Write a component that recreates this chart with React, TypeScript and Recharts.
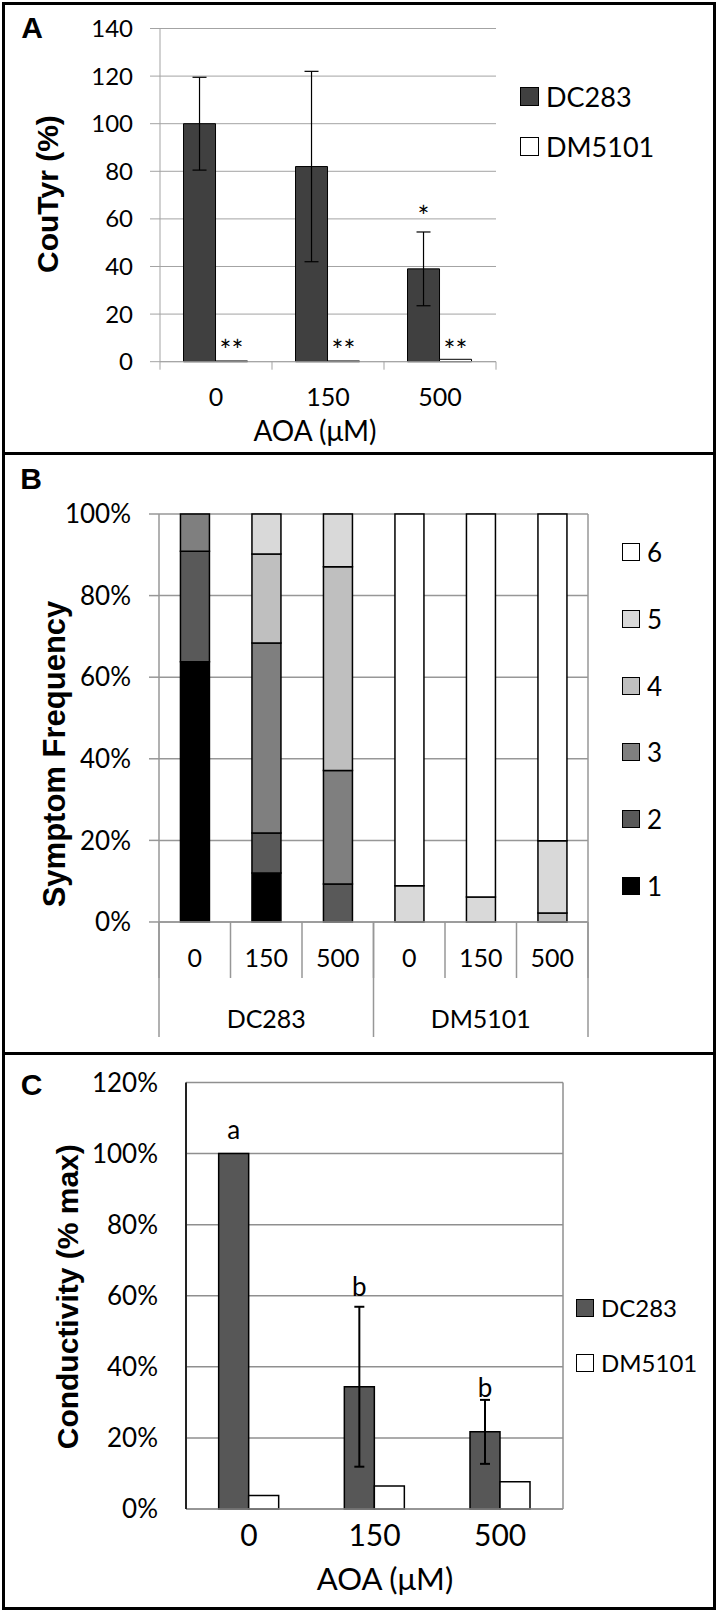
import React from "react";
import {
  Bar,
  BarChart,
  CartesianGrid,
  ErrorBar,
  Label,
  LabelList,
  Legend,
  XAxis,
  YAxis,
} from "recharts";

// ---- shared categories ----
const doses = ["0", "150", "500"];

// ---- A: CouTyr (%) ----
const couTyrDC283 = [100, 82, 39];
const couTyrDC283Err = [19.5, 40, 15.5];
const couTyrDM5101 = [0.3, 0.3, 1];
const couTyrDC283Marks = ["", "", "*"];
const couTyrDC283MarkAt = [0, 0, 56.5];
const couTyrDM5101Marks = ["**", "**", "**"];
const couTyrDM5101MarkAt = [0.3, 0.3, 0.3];
const couTyrTicks = [0, 20, 40, 60, 80, 100, 120, 140];

// ---- B: symptom frequency (%) per score ----
const symptomDoses = ["0", "150", "500", "0", "150", "500"];
const strains = ["DC283", "DM5101"];
const scoreNames = ["1", "2", "3", "4", "5", "6"];
const score1 = [63.8, 12, 0, 0, 0, 0];
const score2 = [27.1, 9.8, 9.3, 0, 0, 0];
const score3 = [9.1, 46.6, 27.8, 0, 0, 0];
const score4 = [0, 21.8, 50, 0, 0, 2.2];
const score5 = [0, 9.8, 12.9, 8.9, 6.1, 17.7];
const score6 = [0, 0, 0, 91.1, 93.9, 80.1];
const pctTicks = [0, 20, 40, 60, 80, 100];

// ---- C: conductivity (% max) ----
const condDC283 = [100, 34.4, 21.7];
const condDC283Err = [0, 22.5, 9];
const condDM5101 = [3.8, 6.5, 7.7];
const condLetters = ["a", "b", "b"];
const condLetterAt = [104, 60, 31.4];
const condTicks = [0, 20, 40, 60, 80, 100, 120];

const scoreSeries = [score1, score2, score3, score4, score5, score6];
const scoreColors = ["#000000", "#595959", "#7f7f7f", "#bfbfbf", "#d9d9d9", "#ffffff"];

const SANS = "Lato, 'Open Sans', sans-serif";
const BOLD = "'Liberation Sans', Arial, sans-serif";
const GRID_A = "#a3a3a3";
const GRID_B = "#979797";
const GRID_C = "#8f8f8f";

// "slot" = category index + 0.5, used by the helper numeric axes that draw
// the category boundary ticks and the group labels
const couTyrData = doses.map((dose, i) => ({
  dose,
  slot: i + 0.5,
  dc: couTyrDC283[i],
  dcErr: couTyrDC283Err[i],
  dm: couTyrDM5101[i],
  dcMark: couTyrDC283Marks[i],
  dmMark: couTyrDM5101Marks[i],
}));

const symptomData = symptomDoses.map((dose, i) => {
  const row: Record<string, any> = { dose, slot: i + 0.5 };
  scoreSeries.forEach((s, k) => (row[`s${k + 1}`] = s[i]));
  return row;
});

const condData = doses.map((dose, i) => ({
  dose,
  dc: condDC283[i],
  dcErr: condDC283Err[i],
  dm: condDM5101[i],
  letter: condLetters[i],
}));

const range = (n: number) => Array.from({ length: n }, (_, i) => i);

// right-hand plot frame line, taken from the chart's own plot offset
const rightEdge = (p: any) => [p.offset.left + p.offset.width];

// text placed over a bar at a value (in data units), using the bar's own geometry
function markContent(texts: string[], at: number[], values: number[], size: number) {
  return (props: any) => {
    const i = props.index;
    const t = texts[i];
    if (!t) return null;
    const vb = props.viewBox ?? props;
    const k = vb.height / values[i];
    const bottom = vb.y + vb.height;
    return (
      <text
        x={vb.x + vb.width / 2}
        y={bottom - at[i] * k}
        textAnchor="middle"
        fontFamily={SANS}
        fontSize={size}
        fill="#000"
      >
        {t}
      </text>
    );
  };
}

function vTitle(text: string, dx: number, dy: number, size: number) {
  return (props: any) => {
    const vb = props.viewBox;
    const cx = vb.x + dx;
    const cy = vb.y + vb.height / 2 + dy;
    return (
      <text
        x={cx}
        y={cy}
        transform={`rotate(-90 ${cx} ${cy})`}
        textAnchor="middle"
        dominantBaseline="central"
        fontFamily={BOLD}
        fontWeight="bold"
        fontSize={size}
        fill="#000"
      >
        {text}
      </text>
    );
  };
}

function hTitle(text: string, dx: number, dy: number, size: number) {
  return (props: any) => {
    const vb = props.viewBox;
    return (
      <text
        x={vb.x + vb.width / 2 + dx}
        y={vb.y + dy}
        textAnchor="middle"
        dominantBaseline="central"
        fontFamily={SANS}
        fontSize={size}
        fill="#000"
      >
        {text}
      </text>
    );
  };
}

function SwatchLegend({ payload, row, size, box, reverse }: any) {
  const items = reverse ? [...(payload || [])].reverse() : payload || [];
  return (
    <div>
      {items.map((it: any) => (
        <div
          key={it.value}
          style={{
            height: row,
            display: "flex",
            alignItems: "center",
            fontFamily: SANS,
            fontSize: size,
            color: "#000",
            lineHeight: 1,
          }}
        >
          <span
            style={{
              display: "inline-block",
              width: box,
              height: box,
              background: it.color,
              border: "1.5px solid #000",
              boxSizing: "border-box",
              marginRight: 7,
            }}
          />
          {it.value}
        </div>
      ))}
    </div>
  );
}

// bottom axes are stacked in id order, so the ids are prefixed to keep the
// zero-height helper axes directly on the plot's bottom edge
function PanelA() {
  return (
    <BarChart
      width={721}
      height={454}
      data={couTyrData}
      margin={{ top: 28.5, right: 225, bottom: 22.3, left: 20 }}
      barCategoryGap="21%"
      barGap={0}
    >
      <CartesianGrid vertical={false} stroke={GRID_A} xAxisId="a1cat" />
      <XAxis
        xAxisId="a0edge"
        dataKey="slot"
        type="number"
        domain={[0, doses.length]}
        allowDataOverflow
        ticks={range(doses.length + 1)}
        height={0.01}
        tickSize={8}
        tickLine={{ stroke: GRID_A }}
        axisLine={false}
        tickFormatter={() => ""}
        interval={0}
      />
      <XAxis
        xAxisId="a1cat"
        dataKey="dose"
        height={70}
        tickLine={false}
        tickSize={0}
        tickMargin={27}
        axisLine={{ stroke: GRID_A }}
        tick={{ fontFamily: SANS, fontSize: 25, fill: "#000" }}
        interval={0}
      >
        <Label content={hTitle("AOA (\u03bcM)", -13, 68, 28)} />
      </XAxis>
      <YAxis
        width={140}
        domain={[0, 140]}
        ticks={couTyrTicks}
        tickSize={10}
        tickMargin={17}
        tickLine={{ stroke: GRID_A }}
        axisLine={{ stroke: GRID_A }}
        tick={{ fontFamily: SANS, fontSize: 24, fill: "#000" }}
        interval={0}
      >
        <Label content={vTitle("CouTyr (%)", 28, -1, 30)} />
      </YAxis>
      <Bar xAxisId="a1cat" dataKey="dc" name="DC283" fill="#404040" stroke="#000" isAnimationActive={false}>
        <ErrorBar dataKey="dcErr" width={7} stroke="#000" strokeWidth={1.2} />
        <LabelList
          dataKey="dcMark"
          content={markContent(couTyrDC283Marks, couTyrDC283MarkAt, couTyrDC283, 28)}
        />
      </Bar>
      <Bar xAxisId="a1cat" dataKey="dm" name="DM5101" fill="#fff" stroke="#000" isAnimationActive={false}>
        <LabelList
          dataKey="dmMark"
          content={markContent(couTyrDM5101Marks, couTyrDM5101MarkAt, couTyrDM5101, 28)}
        />
      </Bar>
      <Legend
        layout="vertical"
        align="center"
        verticalAlign="middle"
        wrapperStyle={{ left: 520, top: 71.7, width: 180 }}
        content={(p: any) => <SwatchLegend payload={p.payload} row={50} size={27} box={19} />}
      />
    </BarChart>
  );
}

function PanelB() {
  const n = symptomDoses.length;
  const per = n / strains.length;
  return (
    <BarChart
      width={721}
      height={600}
      data={symptomData}
      margin={{ top: 60, right: 133, bottom: 16, left: 20 }}
      barCategoryGap="30%"
    >
      <CartesianGrid
        stroke={GRID_B}
        strokeWidth={1.5}
        xAxisId="b2dose"
        verticalCoordinatesGenerator={rightEdge}
      />
      <XAxis
        xAxisId="b0sepS"
        dataKey="slot"
        type="number"
        domain={[0, n]}
        allowDataOverflow
        ticks={range(n + 1)}
        height={0.01}
        tickSize={56}
        tickLine={{ stroke: GRID_B, strokeWidth: 1.5 }}
        axisLine={false}
        tickFormatter={() => ""}
        interval={0}
      />
      <XAxis
        xAxisId="b1sepL"
        dataKey="slot"
        type="number"
        domain={[0, n]}
        allowDataOverflow
        ticks={range(strains.length + 1).map((g) => g * per)}
        height={0.01}
        tickSize={115}
        tickLine={{ stroke: GRID_B, strokeWidth: 1.5 }}
        axisLine={false}
        tickFormatter={() => ""}
        interval={0}
      />
      <XAxis
        xAxisId="b2dose"
        dataKey="dose"
        height={56}
        tickLine={false}
        tickSize={0}
        tickMargin={27}
        axisLine={{ stroke: GRID_B, strokeWidth: 1.5 }}
        tick={{ fontFamily: SANS, fontSize: 25, fill: "#000" }}
        interval={0}
      />
      <XAxis
        xAxisId="b3grp"
        dataKey="slot"
        type="number"
        domain={[0, n]}
        allowDataOverflow
        ticks={strains.map((_, g) => g * per + per / 2)}
        tickFormatter={(v: number) => strains[Math.floor(v / per)]}
        height={60}
        tickLine={false}
        tickSize={0}
        tickMargin={32}
        axisLine={false}
        tick={{ fontFamily: SANS, fontSize: 25, fill: "#000" }}
        interval={0}
      />
      <YAxis
        width={139}
        domain={[0, 100]}
        ticks={pctTicks}
        tickFormatter={(v: number) => `${v}%`}
        tickSize={10}
        tickMargin={18}
        tickLine={{ stroke: GRID_B, strokeWidth: 1.5 }}
        axisLine={{ stroke: GRID_B, strokeWidth: 1.5 }}
        tick={{ fontFamily: SANS, fontSize: 26, fill: "#000" }}
        interval={0}
      >
        <Label content={vTitle("Symptom Frequency", 35, 36, 31)} />
      </YAxis>
      {scoreNames.map((name, k) => (
        <Bar
          key={name}
          xAxisId="b2dose"
          dataKey={`s${k + 1}`}
          name={name}
          stackId="s"
          fill={scoreColors[k]}
          stroke="#000"
          strokeWidth={1.5}
          isAnimationActive={false}
        />
      ))}
      <Legend
        layout="vertical"
        align="center"
        verticalAlign="middle"
        wrapperStyle={{ left: 622, top: 64.6, width: 80 }}
        content={(p: any) => <SwatchLegend payload={p.payload} row={66.8} size={26} box={18} reverse />}
      />
    </BarChart>
  );
}

function PanelC() {
  return (
    <BarChart
      width={721}
      height={553}
      data={condData}
      margin={{ top: 28.5, right: 158, bottom: 18, left: 20 }}
      barCategoryGap="26%"
      barGap={0}
    >
      <CartesianGrid stroke={GRID_C} strokeWidth={1.5} verticalCoordinatesGenerator={rightEdge} />
      <XAxis
        dataKey="dose"
        height={80}
        tickLine={false}
        tickSize={0}
        tickMargin={15.5}
        axisLine={{ stroke: GRID_C, strokeWidth: 1.5 }}
        tick={{ fontFamily: SANS, fontSize: 30, fill: "#000" }}
        interval={0}
      >
        <Label content={hTitle("AOA (\u03bcM)", 10.5, 69, 31)} />
      </XAxis>
      <YAxis
        width={166}
        domain={[0, 120]}
        ticks={condTicks}
        tickFormatter={(v: number) => `${v}%`}
        tickLine={false}
        tickSize={0}
        tickMargin={28}
        axisLine={{ stroke: "#222", strokeWidth: 2 }}
        tick={{ fontFamily: SANS, fontSize: 26, fill: "#000" }}
        interval={0}
      >
        <Label content={vTitle("Conductivity (% max)", 47, 1, 30)} />
      </YAxis>
      <Bar dataKey="dc" name="DC283" fill="#575757" stroke="#000" strokeWidth={1.5} isAnimationActive={false}>
        <ErrorBar dataKey="dcErr" width={5} stroke="#000" strokeWidth={2} />
        <LabelList dataKey="letter" content={markContent(condLetters, condLetterAt, condDC283, 26)} />
      </Bar>
      <Bar dataKey="dm" name="DM5101" fill="#fff" stroke="#000" strokeWidth={1.5} isAnimationActive={false} />
      <Legend
        layout="vertical"
        align="center"
        verticalAlign="middle"
        wrapperStyle={{ left: 576, top: 226.5, width: 140 }}
        content={(p: any) => <SwatchLegend payload={p.payload} row={55} size={24} box={18} />}
      />
    </BarChart>
  );
}

export default function App() {
  return (
    <div style={{ position: "absolute", left: 0, top: 0, width: 721, height: 1612, background: "#fff" }}>
      <div style={{ position: "absolute", left: 0, top: 0 }}>
        <PanelA />
      </div>
      <div style={{ position: "absolute", left: 0, top: 454 }}>
        <PanelB />
      </div>
      <div style={{ position: "absolute", left: 0, top: 1054 }}>
        <PanelC />
      </div>
      <div
        style={{
          position: "absolute",
          left: 2,
          top: 2,
          width: 714,
          height: 1608,
          border: "3px solid #000",
          boxSizing: "border-box",
          pointerEvents: "none",
        }}
      />
      <div style={{ position: "absolute", left: 2, top: 452, width: 714, height: 3, background: "#000" }} />
      <div style={{ position: "absolute", left: 2, top: 1052, width: 714, height: 3, background: "#000" }} />
      <svg
        width={721}
        height={1612}
        style={{ position: "absolute", left: 0, top: 0, pointerEvents: "none" }}
      >
        <g fontFamily={BOLD} fontWeight="bold" fontSize={30} textAnchor="middle" fill="#000">
          <text x={32} y={38}>A</text>
          <text x={31} y={489}>B</text>
          <text x={31.5} y={1095}>C</text>
        </g>
      </svg>
    </div>
  );
}
